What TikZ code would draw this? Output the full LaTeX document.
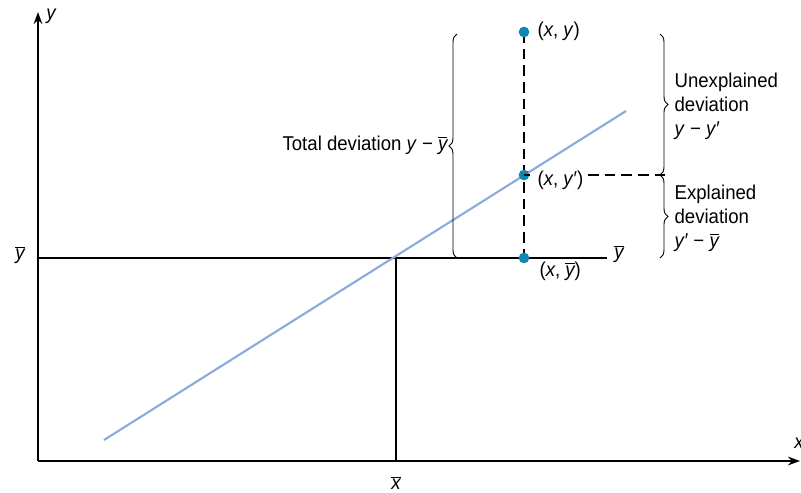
\documentclass[tikz,border=0pt]{standalone}
\usepackage{fontspec}
\setmainfont[FakeStretch=0.93]{Liberation Sans}
\usetikzlibrary{arrows.meta,decorations.pathreplacing}

\definecolor{ptblue}{RGB}{16,134,180}
\definecolor{regblue}{RGB}{140,170,220}

\newcommand*{\xmin}{38}
\newcommand*{\xmax}{800}
\newcommand*{\ymin}{461}
\newcommand*{\ymax}{12}
\newcommand*{\yb}{258}
\newcommand*{\xb}{396}
\newcommand*{\ovl}[1]{$\overline{\mbox{\itshape #1}}$}

\begin{document}
\begin{tikzpicture}
[
	x=0.75pt,
	y=-0.75pt,
	axis/.style={line width=1.7pt,-{Stealth[length=9pt,width=6.5pt]}},
	dot/.style={circle,fill=ptblue,inner sep=0pt,minimum size=8pt},
	dev/.style={line width=1.8pt,dash pattern=on 8pt off 4.5pt},
	brc/.style={decorate,decoration={brace,amplitude=6pt},line width=0.7pt},
	lbl/.style={font=\fontsize{15}{18}\selectfont,inner sep=1pt}
]
	\useasboundingbox (0,0) rectangle (801,493);

	% axes
	\coordinate (O) at (\xmin,\ymin);
	\coordinate (xend) at (\xmax,\ymin);
	\coordinate (yend) at (\xmin,\ymax);
	\draw[axis] (O) -- (xend);
	\draw[axis] (O) -- (yend);
	\node[lbl] (xlab) at (799,443) {\itshape x};
	\node[lbl] (ylab) at (51,16) {\itshape y};

	% means
	\coordinate (ybl) at (\xmin,\yb);
	\coordinate (ybr) at (607,\yb);
	\coordinate (xbt) at (\xb,\yb);
	\coordinate (xbb) at (\xb,\ymin);
	\draw[line width=1.7pt] (ybl) -- (ybr);
	\draw[line width=1.7pt] (xbt) -- (xbb);
	\node[lbl] (ybarl) at (20,255) {\ovl{y}};
	\node[lbl] (ybarr) at (619,254) {\ovl{y}};
	\node[lbl] (xbar) at (\xb,483) {\ovl{x}};

	% regression line
	\coordinate (r0) at (104,440);
	\coordinate (r1) at (626,111);
	\draw[regblue,line width=1.6pt] (r0) -- (r1);

	% deviations
	\coordinate (pxy) at (524,32);
	\coordinate (pxyp) at (524,175);
	\coordinate (pxyb) at (524,\yb);
	\coordinate (hend) at (665,175);
	\draw[dev] (pxy) -- (pxyb);
	\node[dot] (dxy) at (pxy) {};
	\node[dot] (dxyp) at (pxyp) {};
	\node[dot] (dxyb) at (pxyb) {};
	\node[lbl,anchor=west] (lxy) at (536,31) {(\textit{x}, \textit{y})};
	\node[lbl,anchor=west] (lxyp) at (536,180) {(\textit{x}, \textit{y}′)};
	\node[lbl,anchor=west] (lxyb) at (538,271) {(\textit{x}, \ovl{y})};
	\draw[dev] (pxyp) -- (530,175);
	\draw[dev] (lxyp.east |- pxyp) ++(3,0) -- (hend);

	% braces
	\coordinate (bl0) at (457,\yb);
	\coordinate (bl1) at (457,34);
	\coordinate (br0) at (660,34);
	\coordinate (br1) at (660,175);
	\coordinate (br2) at (660,\yb);
	\draw[brc] (bl0) -- (bl1);
	\draw[brc] (br0) -- (br1);
	\draw[brc] (br1) -- (br2);
	\node[lbl,anchor=east] (total) at (449,145) {Total deviation \textit{y} − \ovl{y}};
	\node[lbl,anchor=west,align=left] (unexp) at (673,106)
	  {Unexplained\\deviation\\\textit{y} − \textit{y}′};
	\node[lbl,anchor=west,align=left] (exp) at (673,218)
	  {Explained\\deviation\\\textit{y}′ − \ovl{y}};

\end{tikzpicture}
\end{document}
